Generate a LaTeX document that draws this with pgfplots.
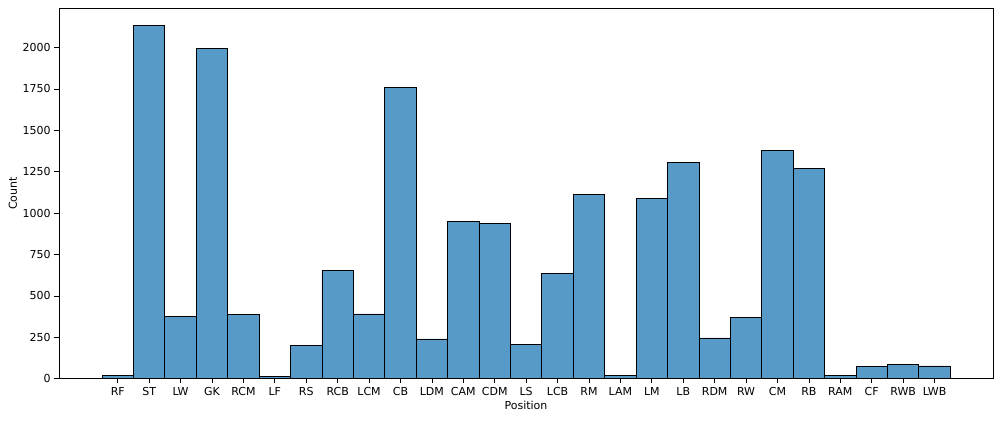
\documentclass[border=0pt]{standalone}
\usepackage{fontspec}
\setmainfont{DejaVu Sans}
\usepackage{pgfplots}
\pgfplotsset{compat=1.18}
\definecolor{barblue}{HTML}{5799C7}
\pgfplotstableread{
x y
0 18
1 2132
2 374
3 1993
4 386
5 12
6 202
7 652
8 391
9 1758
10 240
11 948
12 936
13 205
14 638
15 1114
16 22
17 1087
18 1305
19 246
20 367
21 1377
22 1268
23 22
24 75
25 85
26 77
}\datatable
\begin{document}
\fontsize{11}{13}\selectfont
\begin{tikzpicture}
\useasboundingbox (0,0) rectangle (1000pt,421pt);
\begin{axis}[
  at={(59pt,42.3pt)}, anchor=south west,
  scale only axis, width=934pt, height=370.4pt,
  xmin=-1.87, xmax=27.86, ymin=0, ymax=2237,
  xtick={0,...,26},
  xticklabels={RF,ST,LW,GK,RCM,LF,RS,RCB,LCM,CB,LDM,CAM,CDM,LS,LCB,RM,LAM,LM,LB,RDM,RW,CM,RB,RAM,CF,RWB,LWB},
  ytick={0,250,...,2000},
  tick align=outside, tick pos=left, major tick length=4.5pt,
  every tick/.style={black, line width=0.8pt},
  axis line style={line width=0.8pt},
  /pgf/number format/assume math mode=true,
  /pgf/number format/1000 sep={},
  scaled y ticks=false,
  xticklabel style={font=\fontsize{11}{13}\selectfont},
  yticklabel style={font=\fontsize{11}{13}\selectfont},
  xlabel={Position}, ylabel={Count},
  every axis x label/.style={at={(axis description cs:0.5,0)}, anchor=center, yshift=-27pt},
  every axis y label/.style={at={(axis description cs:-0.0493,0.5)}, anchor=center, rotate=90},
]
\addplot[ybar, bar width=1, fill=barblue, draw=black, line width=0.9pt] table[x=x,y=y] {\datatable};
\end{axis}
\end{tikzpicture}
\end{document}
